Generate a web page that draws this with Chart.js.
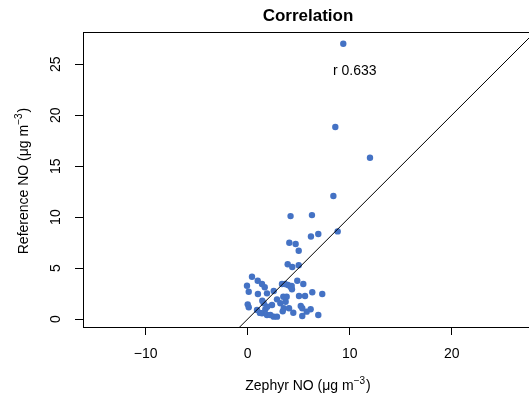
<!DOCTYPE html>
<html>
<head>
<meta charset="utf-8">
<script src="https://cdn.jsdelivr.net/npm/chart.js@4"></script>
<style>
  html, body { margin: 0; padding: 0; background: #fff; overflow: hidden; }
  #wrap { width: 529px; height: 400px; }
  canvas { display: block; }
</style>
</head>
<body>
<div id="wrap"><canvas id="c" width="529" height="400"></canvas></div>
<script>
// Zephyr NO (x) vs Reference NO (y), µg m-3
const zephyrNO = [9.37, 8.59, 11.99, 8.40, 4.20, 6.30, 6.20, 6.92, 8.82, 4.08, 4.70, 5.00, 3.92, 4.37, 5.00,
  0.42, 0.98, 1.40, -0.07, 1.67, 0.10, 1.00, 1.89, 2.55, 3.36, 2.87, 3.20, 2.38, 1.57, 0.00, 0.10, 0.91,
  1.40, 1.73, 1.89, 2.22, 2.55, 2.87, 3.53, 3.95, 4.20, 4.86, 5.45, 6.33, 7.31, 5.03, 5.62, 3.82, 3.72,
  5.20, 5.35, 4.05, 5.78, 6.17, 4.47, 5.35, 6.92, 3.66, 4.31, 4.34, 3.49, 1.43, 1.92, 3.43, 1.20];
const referenceNO = [27.02, 18.84, 15.83, 12.07, 10.10, 10.20, 8.10, 8.34, 8.60, 7.49, 7.36, 6.70, 5.37, 5.10, 5.27,
  4.15, 3.76, 3.43, 3.27, 3.11, 2.68, 2.45, 2.52, 2.75, 3.43, 1.93, 1.54, 1.37, 1.54, 1.44, 1.15, 0.88,
  0.56, 0.95, 0.39, 0.39, 0.23, 0.23, 1.05, 3.34, 3.17, 3.76, 3.43, 2.62, 2.45, 2.26, 2.26, 2.19, 1.70,
  1.28, 1.05, 1.05, 0.72, 0.95, 0.62, 0.29, 0.39, 3.43, 3.24, 2.91, 2.19, 1.80, 1.20, 0.75, 0.60];
const oneToOneLine = [-5, 40];          // y = x reference line end points
const xTicks = [-10, 0, 10, 20];
const yTicks = [0, 5, 10, 15, 20, 25];
const xRange = [-16.15, 27.58];
const yRange = [-0.785, 28.17];
const corrLabel = 'r 0.633';
const corrLabelPos = [10.5, 24.34];
const titleText = 'Correlation';

const FONT = '"Liberation Sans", Arial, Helvetica, sans-serif';

const textPlugin = {
  id: 'texts',
  afterDraw(chart) {
    const ctx = chart.ctx;
    const a = chart.chartArea;
    const xs = chart.scales.x, ys = chart.scales.y;
    ctx.save();
    ctx.fillStyle = '#000';
    ctx.strokeStyle = '#000';
    ctx.lineWidth = 1;
    // top border of box
    ctx.beginPath();
    ctx.moveTo(a.left, Math.round(a.top) + 0.5);
    ctx.lineTo(a.right, Math.round(a.top) + 0.5);
    ctx.stroke();

    // title
    ctx.font = 'bold 17px ' + FONT;
    ctx.textAlign = 'center';
    ctx.textBaseline = 'alphabetic';
    ctx.fillText(titleText, 308, 21);

    // correlation label
    ctx.font = '14px ' + FONT;
    ctx.textBaseline = 'middle';
    ctx.fillText(corrLabel, xs.getPixelForValue(corrLabelPos[0]), ys.getPixelForValue(corrLabelPos[1]));

    // axis title helper with superscript
    function supTitle(main, sup, tail) {
      ctx.font = '14px ' + FONT;
      const w1 = ctx.measureText(main).width;
      const w3 = ctx.measureText(tail).width;
      ctx.font = '10px ' + FONT;
      const w2 = ctx.measureText(sup).width;
      const total = w1 + w2 + w3 + 1;
      let x = -total / 2;
      ctx.textAlign = 'left';
      ctx.textBaseline = 'alphabetic';
      ctx.font = '14px ' + FONT;
      ctx.fillText(main, x, 0);
      x += w1;
      ctx.font = '10px ' + FONT;
      ctx.fillText(sup, x, -6);
      x += w2 + 1;
      ctx.font = '14px ' + FONT;
      ctx.fillText(tail, x, 0);
    }
    // x title
    ctx.save();
    ctx.translate(308, 390);
    supTitle('Zephyr NO (\u03bcg m', '\u22123', ')');
    ctx.restore();
    // y title
    ctx.save();
    ctx.translate(28, 181);
    ctx.rotate(-Math.PI / 2);
    supTitle('Reference NO (\u03bcg m', '\u22123', ')');
    ctx.restore();
    ctx.restore();
  }
};

new Chart(document.getElementById('c'), {
  type: 'scatter',
  data: {
    datasets: [
      {
        type: 'scatter',
        data: zephyrNO.map((x, i) => ({ x: x, y: referenceNO[i] })),
        backgroundColor: '#4472C4',
        borderWidth: 0,
        pointRadius: 3.2,
        order: 2
      },
      {
        type: 'line',
        data: oneToOneLine.map(v => ({ x: v, y: v })),
        borderColor: '#000',
        borderWidth: 1,
        pointRadius: 0,
        fill: false,
        order: 1
      }
    ]
  },
  options: {
    responsive: false,
    animation: false,
    devicePixelRatio: 1,
    layout: { autoPadding: false, padding: { top: 32, left: 0, right: 0, bottom: 0 } },
    plugins: { legend: { display: false }, tooltip: { enabled: false }, title: { display: false } },
    scales: {
      x: {
        type: 'linear',
        min: xRange[0], max: xRange[1],
        afterBuildTicks: s => { s.ticks = xTicks.map(v => ({ value: v })); },
        afterFit: s => { s.height = 73; s.paddingLeft = 0; s.paddingRight = 0; },
        grid: { drawOnChartArea: false, drawTicks: true, tickLength: 8, color: '#000', lineWidth: 1 },
        border: { display: true, color: '#000', width: 1 },
        ticks: {
          color: '#000', padding: 11, maxRotation: 0, minRotation: 0,
          font: { family: FONT, size: 14 },
          callback: v => (v < 0 ? '\u2212' + Math.abs(v) : String(v))
        }
      },
      y: {
        type: 'linear',
        min: yRange[0], max: yRange[1],
        afterBuildTicks: s => { s.ticks = yTicks.map(v => ({ value: v })); },
        afterFit: s => { s.width = 83; s.paddingTop = 0; s.paddingBottom = 0; },
        grid: { drawOnChartArea: false, drawTicks: true, tickLength: 8, color: '#000', lineWidth: 1 },
        border: { display: true, color: '#000', width: 1 },
        ticks: {
          color: '#000', padding: 11, minRotation: 90, maxRotation: 90, crossAlign: 'center',
          font: { family: FONT, size: 14 },
          callback: v => String(v)
        }
      }
    }
  },
  plugins: [textPlugin]
});
</script>
</body>
</html>
